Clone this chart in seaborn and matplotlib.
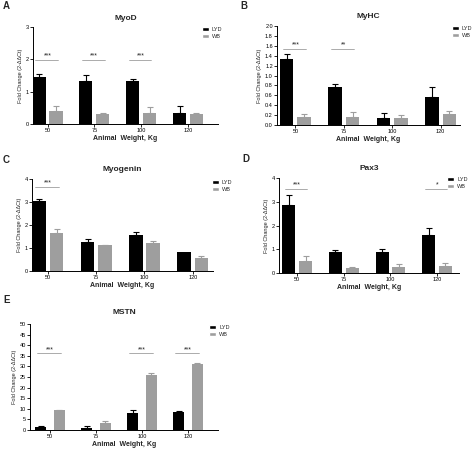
import matplotlib
matplotlib.use('Agg')
import matplotlib.pyplot as plt
from matplotlib.patches import Patch
import seaborn as sns
import pandas as pd

sns.set_style('white')
plt.rcParams['font.family'] = ['Liberation Sans', 'DejaVu Sans']

weights = ['50', '75', '100', '120']
breeds = ['LYD', 'WB']

myod_lyd = [1.44, 1.33, 1.33, 0.33]
myod_lyd_err = [0.12, 0.18, 0.07, 0.22]
myod_wb = [0.40, 0.32, 0.34, 0.32]
myod_wb_err = [0.16, 0.02, 0.19, 0.02]
myod_sig = ['***', '***', '***', '']

myhc_lyd = [1.33, 0.77, 0.15, 0.57]
myhc_lyd_err = [0.10, 0.05, 0.09, 0.19]
myhc_wb = [0.16, 0.16, 0.14, 0.22]
myhc_wb_err = [0.07, 0.11, 0.06, 0.06]
myhc_sig = ['***', '**', '', '']

myog_lyd = [3.05, 1.28, 1.56, 0.83]
myog_lyd_err = [0.09, 0.13, 0.13, 0.0]
myog_wb = [1.64, 1.13, 1.21, 0.55]
myog_wb_err = [0.18, 0.02, 0.10, 0.09]
myog_sig = ['***', '', '', '']

pax3_lyd = [2.87, 0.88, 0.89, 1.58]
pax3_lyd_err = [0.42, 0.07, 0.11, 0.30]
pax3_wb = [0.51, 0.20, 0.25, 0.31]
pax3_wb_err = [0.20, 0.04, 0.12, 0.10]
pax3_sig = ['***', '', '', '*']

mstn_lyd = [1.26, 0.80, 7.9, 8.4]
mstn_lyd_err = [0.6, 1.1, 1.4, 0.4]
mstn_wb = [9.5, 3.3, 25.9, 31.1]
mstn_wb_err = [0.1, 1.1, 1.1, 0.3]
mstn_sig = ['***', '', '***', '***']

W, H = 474, 449
fig = plt.figure(figsize=(W / 100, H / 100), dpi=100)
palette = {'LYD': '#000000', 'WB': '#9e9e9e'}


def panel(rect, letter, letter_xy, title, title_y, lyd, lyd_err, wb, wb_err,
          ylim, yticks, ylabels, sig, sig_y, xlim, width, gap, legend_xy):
    l, r, t, b = rect
    ax = fig.add_axes([l / W, 1 - b / H, (r - l) / W, (b - t) / H])
    df = pd.DataFrame({'Weight': weights * 2,
                       'Breed': ['LYD'] * 4 + ['WB'] * 4,
                       'Value': lyd + wb})
    sns.barplot(data=df, x='Weight', y='Value', hue='Breed', order=weights,
                hue_order=breeds, palette=palette, errorbar=None, width=width,
                gap=gap, saturation=1, legend=False, ax=ax, linewidth=0)
    centers = {}
    for cont, errs, name in zip(ax.containers, [lyd_err, wb_err], breeds):
        xs = []
        for bar, e in zip(cont, errs):
            x = bar.get_x() + bar.get_width() / 2
            h = bar.get_height()
            xs.append(x)
            if e > 0:
                ax.errorbar([x], [h], yerr=[[0], [e]], fmt='none',
                            ecolor=palette[name], elinewidth=0.8,
                            capsize=2.2, capthick=0.8)
        centers[name] = xs
    for i, s in enumerate(sig):
        if s:
            x0, x1 = centers['LYD'][i], centers['WB'][i]
            ax.plot([x0 - 0.08, x1 + 0.04], [sig_y, sig_y], color='#8a8a8a', lw=0.5)
            ax.annotate(s, ((x0 + x1) / 2, sig_y), xytext=(0, 0.3),
                        textcoords='offset points', ha='center', va='bottom',
                        fontsize=5, color='#222222')
    ax.set_xlim(*xlim)
    ax.set_ylim(*ylim)
    ax.set_yticks(yticks)
    ax.set_yticklabels(ylabels)
    sns.despine(ax=ax)
    for sp in ['left', 'bottom']:
        ax.spines[sp].set_linewidth(0.7)
        ax.spines[sp].set_color('black')
    ax.tick_params(axis='both', labelsize=4, length=2, width=0.6, pad=1,
                   bottom=True, left=True, colors='black')
    ax.set_xlabel('Animal  Weight, Kg', fontsize=5, fontweight='bold', labelpad=1.5)
    ax.set_ylabel('Fold Change (2-ΔΔCt)', fontsize=4, labelpad=2)
    fig.text((l + r) / 2 / W, 1 - title_y / H, title, ha='center', va='center',
             fontsize=6, fontweight='bold')
    fig.text(letter_xy[0] / W, 1 - letter_xy[1] / H, letter, ha='left', va='center',
             fontsize=7, fontweight='bold')
    handles = [Patch(facecolor=palette[b_]) for b_ in breeds]
    ax.legend(handles, breeds, loc='upper left',
              bbox_to_anchor=(legend_xy[0] / W, 1 - legend_xy[1] / H),
              bbox_transform=fig.transFigure, frameon=False, fontsize=4,
              handlelength=1.2, handleheight=0.6, handletextpad=0.6,
              labelspacing=0.35, borderpad=0, borderaxespad=0)
    return ax


panel((33, 218, 27, 124), 'A', (3, 6), 'MyoD', 19,
      myod_lyd, myod_lyd_err, myod_wb, myod_wb_err,
      (0, 3), [0, 1, 2, 3], ['0', '1', '2', '3'], myod_sig, 1.98,
      (-0.31, 3.64), 0.72, 0.22, (202, 27))

b_ticks = [i * 0.2 for i in range(11)]
panel((277, 460, 26, 125), 'B', (240, 6), 'MyHC', 17,
      myhc_lyd, myhc_lyd_err, myhc_wb, myhc_wb_err,
      (0, 2.0), b_ticks, ['%.1f' % v for v in b_ticks], myhc_sig, 1.53,
      (-0.38, 3.4), 0.72, 0.22, (452, 26))

panel((32, 213, 179, 271), 'C', (3, 160), 'Myogenin', 170,
      myog_lyd, myog_lyd_err, myog_wb, myog_wb_err,
      (0, 4), [0, 1, 2, 3, 4], ['0', '1', '2', '3', '4'], myog_sig, 3.64,
      (-0.33, 3.42), 0.72, 0.22, (212, 180))

panel((279, 459, 178, 273), 'D', (242, 159), 'Pax3', 169,
      pax3_lyd, pax3_lyd_err, pax3_wb, pax3_wb_err,
      (0, 4), [0, 1, 2, 3, 4], ['0', '1', '2', '3', '4'], pax3_sig, 3.53,
      (-0.39, 3.47), 0.72, 0.22, (447, 177))

e_ticks = list(range(0, 55, 5))
panel((30, 218, 324, 430), 'E', (3, 300), 'MSTN', 313,
      mstn_lyd, mstn_lyd_err, mstn_wb, mstn_wb_err,
      (0, 50), e_ticks, [str(v) for v in e_ticks], mstn_sig, 36.1,
      (-0.43, 3.65), 0.8, 0.4, (209, 325))

fig.savefig('out.png', dpi=100, facecolor='white')
